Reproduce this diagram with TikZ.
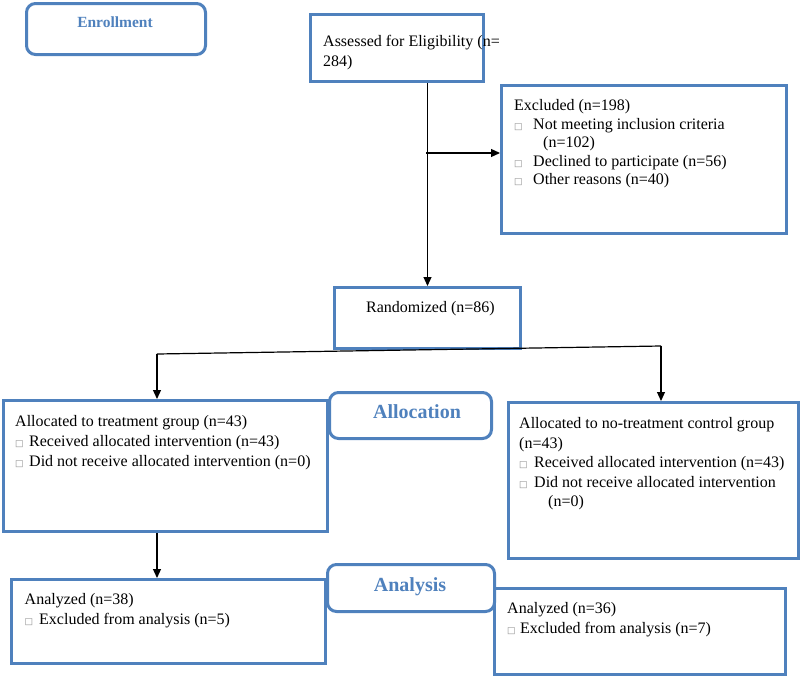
\documentclass[tikz,border=0pt]{standalone}
\usepackage{fontspec}
\setmainfont{Liberation Serif}
\newfontfamily\dejavu{DejaVu Sans}
\usetikzlibrary{arrows.meta}
\definecolor{cblue}{RGB}{79,129,189}
\newcommand\bul{{\dejavu\fontsize{9}{9}\selectfont\textcolor{black!45}{□}}}
\newcommand\bx[1]{\makebox[#1pt][l]{\bul}}
\begin{document}
\begin{tikzpicture}[x=1pt,y=-1pt,
 pbox/.style={draw=cblue,line width=3pt,anchor=north west,inner sep=0pt,fill=white},
 rbox/.style={pbox,rounded corners=9pt},
 txt/.style={anchor=north west,inner sep=0pt,align=left},
 fa/.style={font=\fontsize{16}{20}\selectfont},
 lbl/.style={inner sep=0pt,text=cblue,font=\bfseries\fontsize{20}{24}\selectfont},
 conn/.style={line width=1.2pt},
 arr/.style={conn,-{Triangle[length=9pt,width=8pt]}}]
\useasboundingbox (0,0) rectangle (800,675);

% plain boxes
\node[pbox,minimum width=173pt,minimum height=67pt] (assess) at (309,13) {};
\node[pbox,minimum width=285pt,minimum height=148pt] (excl) at (500,84) {};
\node[pbox,minimum width=186pt,minimum height=61pt] (rand) at (333,286) {};
\node[pbox,minimum width=324pt,minimum height=131pt] (treat) at (2,399) {};
\node[pbox,minimum width=290pt,minimum height=156pt] (ctrl) at (507,401) {};
\node[pbox,minimum width=314pt,minimum height=84pt] (anl) at (10,578) {};
\node[pbox,minimum width=291pt,minimum height=86pt] (anr) at (493,587) {};

% texts
\node[txt,fa] (assesst) at (323,35.5) {Assessed for Eligibility (n=\\284)};
\node[txt,font=\fontsize{16}{18.4}\selectfont] (exclt) at (514,99.5)
 {Excluded (n=198)\\
  \bx{19}Not meeting inclusion criteria\\
  \hspace*{29pt}(n=102)\\
  \bx{19}Declined to participate (n=56)\\
  \bx{19}Other reasons (n=40)};
\node[inner sep=0pt,anchor=west,fa] (randt) at (366,309) {Randomized (n=86)};
\node[txt,fa] (treatt) at (15,415.5)
 {Allocated to treatment group (n=43)\\
  \bx{14}Received allocated intervention (n=43)\\
  \bx{14}Did not receive allocated intervention (n=0)};
\node[txt,font=\fontsize{16}{19.5}\selectfont] (ctrlt) at (519,417.5)
 {Allocated to no-treatment control group\\
  (n=43)\\
  \bx{15}Received allocated intervention (n=43)\\
  \bx{15}Did not receive allocated intervention\\
  \hspace*{29pt}(n=0)};
\node[txt,font=\fontsize{16}{19.5}\selectfont] (anlt) at (24.5,593.5)
 {Analyzed (n=38)\\
  \bx{14.5}Excluded from analysis (n=5)};
\node[txt,fa] (anrt) at (507,602.5)
 {Analyzed (n=36)\\
  \bx{13}Excluded from analysis (n=7)};

% connectors
\coordinate (br) at (426,153);
\coordinate (sl) at (157,354);
\coordinate (sr) at (661,346);
\draw[arr] (assess.south -| rand.north) -- (rand.north);
\draw[arr] (br) -- (br -| excl.west);
\draw[conn] (sl) -- (sr);
\draw[arr] (sl) -- (sl |- treat.north);
\draw[arr] (sr) -- (sr |- ctrl.north);
\draw[arr] (sl |- treat.south) -- (sl |- anl.north);

% section labels
\node[rbox,minimum width=179pt,minimum height=51pt] (enroll) at (25,2) {};
\node[lbl,font=\bfseries\fontsize{15.5}{18}\selectfont] (enrollt) at (115,22) {Enrollment};
\node[rbox,minimum width=162pt,minimum height=46pt] (alloc) at (328,391) {};
\node[lbl] (alloct) at (417,412) {Allocation};
\node[rbox,minimum width=167pt,minimum height=47pt] (anal) at (326,563) {};
\node[lbl] (analt) at (410,587) {Analysis};
\end{tikzpicture}
\end{document}
